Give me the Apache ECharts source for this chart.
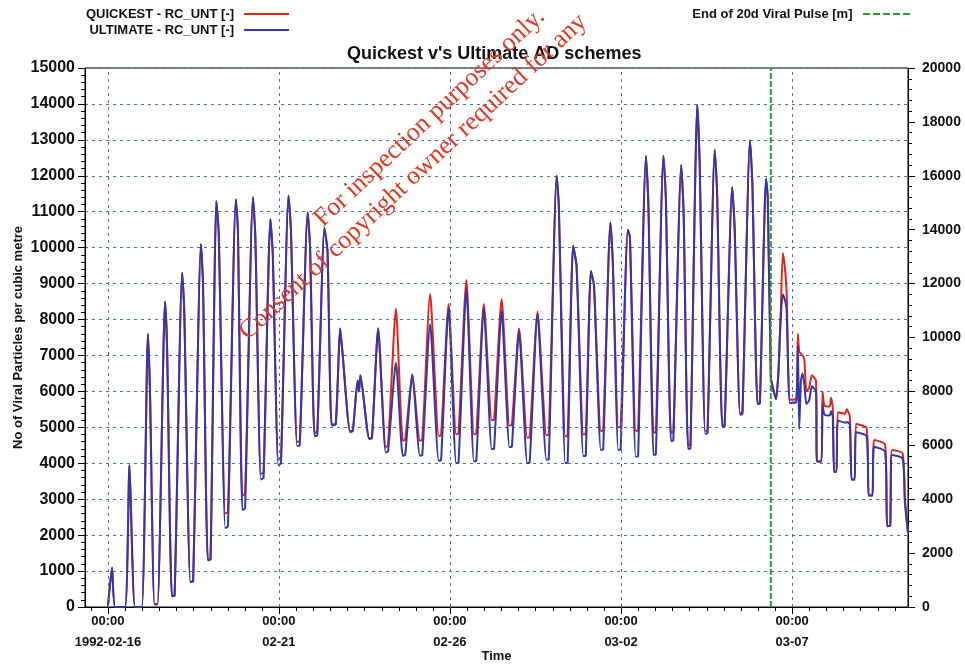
<!DOCTYPE html>
<html>
<head>
<meta charset="utf-8">
<script src="https://cdn.jsdelivr.net/npm/echarts@6/dist/echarts.min.js"></script>
<style>
  html, body { margin: 0; padding: 0; background: #ffffff; }
  #chart { width: 965px; height: 666px; }
</style>
</head>
<body>
<div id="chart"></div>
<script>
// Time in days after 1992-02-16 00:00; one line per tidal cycle (peak, shoulder, low water).
const dayOffsets = [
  0.00, 0.12, 0.21, 0.50,
  0.63, 0.79, 0.99,
  1.17, 1.23, 1.36, 1.45,
  1.67, 1.73, 1.87, 1.95,
  2.17, 2.23, 2.41, 2.49,
  2.72, 2.78, 2.92, 3.00,
  3.17, 3.24, 3.43, 3.51,
  3.74, 3.80, 3.93, 4.01,
  4.24, 4.31, 4.47, 4.55,
  4.75, 4.82, 4.98, 5.06,
  5.28, 5.35, 5.53, 5.61,
  5.84, 5.91, 6.04, 6.12,
  6.33, 6.42, 6.54, 6.66,
  6.79, 6.86, 7.08, 7.16,
  7.30, 7.34, 7.38, 7.64, 7.72,
  7.90, 8.12, 8.19,
  8.42, 8.62, 8.69,
  8.90, 9.12, 9.19,
  9.42, 9.67, 9.74,
  9.96, 10.18, 10.25,
  10.48, 10.70, 10.77,
  10.99, 11.22, 11.29,
  11.51, 11.74, 11.81,
  12.02, 12.26, 12.33,
  12.56, 12.82, 12.89,
  13.12, 13.18, 13.37, 13.44,
  13.60, 13.70, 13.90, 13.97,
  14.12, 14.21, 14.41, 14.48,
  14.69, 14.76, 14.92, 14.99,
  15.20, 15.26, 15.43, 15.50,
  15.73, 15.80, 15.95, 16.02,
  16.24, 16.31, 16.46, 16.53,
  16.76, 16.83, 16.96, 17.03,
  17.23, 17.30, 17.46, 17.53,
  17.74, 17.81, 17.96, 18.03,
  18.25, 18.32, 18.48, 18.55,
  18.77, 18.84, 18.99, 19.06,
  19.24, 19.29, 19.38, 19.44, 19.53,
  19.60, 19.66, 19.73, 19.79, 19.84, 19.94, 20.12,
  20.17, 20.21, 20.26, 20.31, 20.36, 20.42, 20.50, 20.58, 20.70, 20.73, 20.86,
  20.89, 20.95, 21.10, 21.14, 21.19, 21.23, 21.30,
  21.34, 21.55, 21.60, 21.69, 21.74, 21.83,
  21.87, 22.18, 22.24, 22.35,
  22.40, 22.72, 22.78, 22.87,
  22.92, 23.23, 23.30, 23.39
];

const quickest = [
  0, 1100, 0, 0,
  3950, 0, 0,
  7600, 6000, 80, 80,
  8500, 7200, 300, 320,
  9300, 8300, 700, 720,
  10100, 9000, 1300, 1330,
  11300, 10400, 2600, 2650,
  11350, 10500, 3100, 3150,
  11400, 10300, 3700, 3750,
  10800, 9800, 4100, 4150,
  11450, 10500, 4600, 4620,
  10980, 10000, 4850, 4870,
  10550, 9900, 5080, 5100,
  7750, 7050, 4900, 4920,
  6300, 6000, 6450, 4700, 4720,
  7750, 4450, 4500,
  8300, 4630, 4650,
  6470, 4630, 4650,
  8710, 4760, 4780,
  8430, 4810, 4830,
  9100, 4810, 4830,
  8430, 5200, 5220,
  8570, 5050, 5070,
  7750, 4710, 4730,
  8220, 4780, 4800,
  12000, 11200, 4750, 4770,
  10050, 9500, 4800, 4820,
  9350, 8950, 4900, 4920,
  10700, 9600, 5000, 5020,
  10500, 10300, 4900, 4920,
  12550, 11200, 4850, 4870,
  12560, 11400, 4850, 4870,
  12300, 11000, 4500, 4520,
  13980, 12300, 4900, 4920,
  12720, 11500, 5050, 5070,
  11680, 10600, 5400, 5420,
  12980, 11800, 5650, 5670,
  11920, 11400, 6400, 6100, 5780,
  6500, 7900, 9850, 9450, 8800, 5770, 5780,
  7600, 7100, 7050, 7000, 6900, 6000, 6100, 6450, 6300, 4050, 4050,
  6000, 5600, 5580, 5820, 5550, 3760, 3760,
  5420, 5380, 5500, 5300, 3550, 3550,
  5090, 4980, 3100, 3100,
  4650, 4520, 2250, 2270,
  4370, 4280, 3000, 2060
];

const ultimate = [
  0, 1100, 0, 0,
  3950, 0, 0,
  7600, 6000, 80, 80,
  8500, 7200, 300, 320,
  9300, 8300, 700, 720,
  10100, 9000, 1300, 1330,
  11300, 10400, 2200, 2250,
  11350, 10500, 2700, 2750,
  11400, 10300, 3550, 3600,
  10800, 9800, 3950, 4000,
  11450, 10500, 4480, 4500,
  10980, 10000, 4750, 4780,
  10550, 9900, 5050, 5080,
  7750, 7050, 4870, 4900,
  6300, 6000, 6450, 4670, 4700,
  7750, 4300, 4330,
  6800, 4210, 4230,
  6470, 4210, 4230,
  7870, 4070, 4090,
  8330, 4000, 4020,
  8860, 4050, 4070,
  8330, 4390, 4410,
  8240, 4450, 4470,
  7680, 4000, 4020,
  8150, 4100, 4120,
  12000, 11200, 4000, 4020,
  10050, 9500, 4200, 4220,
  9350, 8950, 4370, 4390,
  10700, 9600, 4370, 4390,
  10500, 10300, 4180, 4200,
  12550, 11200, 4230, 4250,
  12560, 11400, 4620, 4640,
  12300, 11000, 4400, 4420,
  13980, 12300, 4820, 4840,
  12720, 11500, 5020, 5040,
  11680, 10600, 5350, 5370,
  12980, 11800, 5650, 5670,
  11920, 11400, 6400, 6100, 5780,
  6500, 7900, 8700, 8550, 8300, 5680, 5700,
  7270, 4950, 6300, 6500, 6200, 5650, 5750, 6140, 6000, 4050, 4050,
  5650, 5350, 5330, 5450, 5300, 3760, 3760,
  5190, 5130, 5150, 5080, 3550, 3550,
  4860, 4750, 3100, 3100,
  4460, 4320, 2250, 2270,
  4230, 4130, 2900, 2060
];

// End of the viral pulse, in days after 1992-02-16 00:00
const pulseEndDay = 19.38;

// Date gridlines / labels on the time axis (days after 1992-02-16 00:00)
const dateTicks = [0, 5, 10, 15, 20];
const dateTickLabels = [
  '00:00\n1992-02-16', '00:00\n02-21', '00:00\n02-26', '00:00\n03-02', '00:00\n03-07'
];

const xMin = -0.67;
const xMax = 23.39;

// 12-hourly minor ticks along the time axis
const halfDayTicks = [];
for (let d = -0.5; d <= 23.0001; d += 0.5) halfDayTicks.push(+d.toFixed(2));

const quickestData = dayOffsets.map((d, i) => [d, quickest[i]]);
const ultimateData = dayOffsets.map((d, i) => [d, ultimate[i]]);

const FONT = '"Liberation Sans", Arial, sans-serif';
const SERIF = '"Liberation Serif", "Times New Roman", serif';
const gridColor = '#4673ad';
const dashedIcon = 'path://M0,0h7v2h-7z M10,0h7v2h-7z M20,0h7v2h-7z M30,0h7v2h-7z M40,0h7v2h-7z';
const plainNumber = v => String(v);

const chart = echarts.init(document.getElementById('chart'), null, { renderer: 'canvas' });

chart.setOption({
  animation: false,
  backgroundColor: '#ffffff',
  title: {
    text: "Quickest v's Ultimate AD schemes",
    left: 347,
    top: 45,
    padding: 0,
    textStyle: { fontFamily: FONT, fontSize: 18, fontWeight: 'bold', color: '#111' }
  },
  legend: [
    {
      data: ['QUICKEST - RC_UNT [-]', 'ULTIMATE - RC_UNT [-]'],
      orient: 'vertical',
      left: 86,
      top: 7,
      align: 'right',
      icon: 'rect',
      itemWidth: 45,
      itemHeight: 2,
      itemGap: 2,
      padding: 0,
      textStyle: {
        fontFamily: FONT, fontSize: 13, fontWeight: 'bold', color: '#111',
        lineHeight: 14, padding: [0, 5, 0, 0]
      }
    },
    {
      data: [{ name: 'End of 20d Viral Pulse [m]', icon: dashedIcon }],
      orient: 'vertical',
      right: 55,
      top: 7,
      align: 'right',
      itemWidth: 48,
      itemHeight: 2,
      padding: 0,
      textStyle: {
        fontFamily: FONT, fontSize: 13, fontWeight: 'bold', color: '#111',
        lineHeight: 14, padding: [0, 5, 0, 0]
      }
    }
  ],
  grid: {
    left: 85, right: 57, top: 68, bottom: 59,
    outerBoundsMode: 'none',
    containLabel: false,
    show: true, borderColor: '#000', borderWidth: 1, backgroundColor: 'transparent'
  },
  xAxis: {
    type: 'value',
    min: xMin,
    max: xMax,
    name: 'Time',
    nameLocation: 'middle',
    nameGap: 43,
    nameMoveOverlap: false,
    nameTextStyle: { fontFamily: FONT, fontSize: 13, fontWeight: 'bold', color: '#111' },
    axisLine: { show: true, onZero: false, lineStyle: { color: '#000', width: 1 } },
    axisTick: { show: false },
    axisLabel: {
      customValues: dateTicks,
      margin: 4,
      fontFamily: FONT, fontSize: 13, fontWeight: 'bold', color: '#111', lineHeight: 21,
      formatter: v => {
        const i = dateTicks.indexOf(Math.round(v));
        return i >= 0 ? dateTickLabels[i] : '';
      }
    },
    splitLine: { show: false }
  },
  yAxis: [
    {
      type: 'value',
      min: 0,
      max: 15000,
      interval: 1000,
      position: 'left',
      name: 'No of Viral Particles per cubic metre',
      nameLocation: 'middle',
      nameGap: 60,
      nameMoveOverlap: false,
      nameTextStyle: { fontFamily: FONT, fontSize: 13, fontWeight: 'bold', color: '#111' },
      axisLine: { show: true, onZero: false, lineStyle: { color: '#000', width: 1 } },
      axisTick: { show: true, length: 7, lineStyle: { color: '#000' } },
      minorTick: { show: true, splitNumber: 5, length: 4, lineStyle: { color: '#000' } },
      axisLabel: { margin: 10, fontFamily: FONT, fontSize: 16, fontWeight: 'bold', color: '#111', formatter: plainNumber },
      splitLine: { show: true, lineStyle: { color: gridColor, type: [3, 4], width: 1 } }
    },
    {
      type: 'value',
      min: 0,
      max: 20000,
      interval: 2000,
      position: 'right',
      axisLine: { show: true, onZero: false, lineStyle: { color: '#000', width: 1 } },
      axisTick: { show: true, length: 7, lineStyle: { color: '#000' } },
      minorTick: { show: true, splitNumber: 5, length: 4, lineStyle: { color: '#000' } },
      axisLabel: { margin: 14, fontFamily: FONT, fontSize: 14, fontWeight: 'bold', color: '#111', formatter: plainNumber },
      splitLine: { show: false }
    }
  ],
  series: [
    {
      // vertical dashed date gridlines
      name: 'date-grid',
      type: 'line',
      data: [],
      z: 1,
      silent: true,
      markLine: {
        silent: true,
        symbol: ['none', 'none'],
        label: { show: false },
        lineStyle: { color: gridColor, type: [3, 4], width: 1 },
        data: dateTicks.map(d => ({ xAxis: d }))
      }
    },
    {
      name: 'QUICKEST - RC_UNT [-]',
      type: 'line',
      data: quickestData,
      showSymbol: false,
      symbol: 'none',
      smooth: 0.2,
      z: 3,
      color: '#e3241b',
      lineStyle: { color: '#e3241b', width: 2 }
    },
    {
      name: 'ULTIMATE - RC_UNT [-]',
      type: 'line',
      data: ultimateData,
      showSymbol: false,
      symbol: 'none',
      smooth: 0.2,
      z: 4,
      color: '#3437a8',
      lineStyle: { color: '#3437a8', width: 2 }
    },
    {
      name: 'End of 20d Viral Pulse [m]',
      type: 'line',
      yAxisIndex: 1,
      data: [[pulseEndDay, 0], [pulseEndDay, 20000]],
      showSymbol: false,
      symbol: 'none',
      z: 5,
      color: '#2f9a2a',
      lineStyle: { color: '#2f9a2a', width: 2, type: [6, 2] }
    }
  ]
});

// Time-axis tick marks (12-hourly minor, 5-daily major), placed through the axis scale.
const axisBottom = chart.convertToPixel({ yAxisIndex: 0 }, 0);
const tickMark = (d, len) => {
  const px = Math.round(chart.convertToPixel({ xAxisIndex: 0 }, d)) + 0.5;
  return {
    type: 'line',
    silent: true,
    z: 50,
    shape: { x1: px, y1: axisBottom, x2: px, y2: axisBottom + len },
    style: { stroke: '#000', lineWidth: 1 }
  };
};
const tickGraphics = halfDayTicks.map(d => tickMark(d, dateTicks.indexOf(d) >= 0 ? 7 : 4));

chart.setOption({
  graphic: [
    {
      type: 'text',
      x: 327, y: 232,
      rotation: 43.2 * Math.PI / 180,
      z: 100,
      silent: true,
      style: {
        text: 'For inspection purposes only.',
        fontFamily: SERIF, fontSize: 26, fill: '#de3a26',
        textAlign: 'left', textVerticalAlign: 'bottom'
      }
    },
    {
      type: 'text',
      x: 252, y: 345,
      rotation: 43.0 * Math.PI / 180,
      z: 100,
      silent: true,
      style: {
        text: 'Consent of copyright owner required for any',
        fontFamily: SERIF, fontSize: 26, fill: '#de3a26',
        textAlign: 'left', textVerticalAlign: 'bottom'
      }
    }
  ].concat(tickGraphics)
});
</script>
</body>
</html>
